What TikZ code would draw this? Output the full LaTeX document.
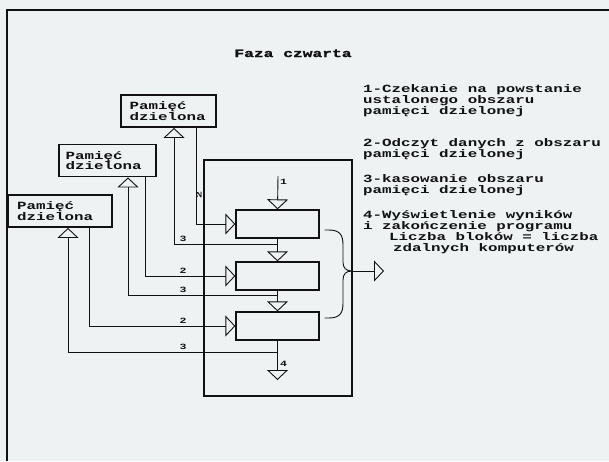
\documentclass[tikz,border=0pt]{standalone}
\usepackage{fontspec}
\newfontfamily\dotfont[FakeStretch=1.44]{Liberation Mono}
\newfontfamily\dotheavy[FakeStretch=1.44, FakeBold=1.5]{Liberation Mono}
\usetikzlibrary{arrows.meta}
\definecolor{paper}{RGB}{238,242,243}
\definecolor{ink}{RGB}{18,18,18}
\begin{document}
\begin{tikzpicture}[x=1pt,y=-1pt,
  txt/.style={anchor=base west, inner sep=0pt, text=ink, font=\dotfont\bfseries\fontsize{11}{11}\selectfont},
  ttl/.style={anchor=base, inner sep=0pt, text=ink, font=\dotheavy\bfseries\fontsize{11.3}{11}\selectfont},
  membox/.style={draw=ink, line width=1.8pt, minimum height=32pt, inner sep=0pt, align=left, text=ink, font=\dotfont\bfseries\fontsize{11}{10.5}\selectfont},
  blockbox/.style={draw=ink, line width=1.3pt, minimum width=83pt, minimum height=28pt, inner sep=0pt},
  contbox/.style={draw=ink, line width=1.1pt, minimum width=148pt, minimum height=236pt, inner sep=0pt},
  wire/.style={draw=ink, line width=0.9pt},
  tri/.style={wire, -{Triangle[open, length=10pt, width=21pt]}},
  lbl/.style={inner sep=0pt, text=ink, font=\dotfont\bfseries\fontsize{8}{8}\selectfont},
]
\fill[paper] (0,0) rectangle (609,461);
\useasboundingbox (0,0) rectangle (609,461);
% outer frame
\draw[ink, line width=2pt] (7,461) -- (7,10) -- (609,10);
% title
\node[ttl] (title) at (293,57) {Faza czwarta};
% description
\node[txt] (t1) at (363,92) {1-Czekanie na powstanie};
\node[txt] (t2) at (363,103) {ustalonego obszaru};
\node[txt] (t3) at (363,114) {pamięci dzielonej};
\node[txt] (t4) at (363,146) {2-Odczyt danych z obszaru};
\node[txt] (t5) at (363,157) {pamięci dzielonej};
\node[txt] (t6) at (363,182) {3-kasowanie obszaru};
\node[txt] (t7) at (363,193) {pamięci dzielonej};
\node[txt] (t8) at (363,218) {4-Wyświetlenie wyników};
\node[txt] (t9) at (363,229) {i zakończenie programu};
\node[txt] (t10) at (389,240) {Liczba bloków = liczba};
\node[txt] (t11) at (393,251) {zdalnych komputerów};
% shared memory boxes
\node[membox, minimum width=95pt, text width=78pt] (A) at (168.5,111) {Pamięć\\dzielona};
\node[membox, minimum width=97pt, text width=84pt] (B) at (107.5,160.5) {Pamięć\\dzielona};
\node[membox, minimum width=104pt, text width=86pt] (C) at (60,211) {Pamięć\\dzielona};
% container and blocks
\node[contbox] (K) at (278,278) {};
\node[blockbox] (P1) at (277.5,224) {};
\node[blockbox] (P2) at (277.5,276) {};
\node[blockbox] (P3) at (277.5,326) {};
% start arrow
\coordinate (s1) at (278,176);
\draw[tri] (s1) -- (P1.north);
\node[lbl, anchor=west] (l1) at (280,182) {1};
% junctions
\coordinate (j1) at (277.5,244);
\coordinate (j2) at (277.5,295);
\coordinate (j3) at (277.5,352);
\coordinate (e4) at (277.5,380);
\draw[wire] (P1.south) -- (j1);
\draw[tri] (j1) -- (P2.north);
\draw[wire] (P2.south) -- (j2);
\draw[tri] (j2) -- (P3.north);
\draw[wire] (P3.south) -- (j3);
\draw[tri] (j3) -- (e4);
\node[lbl, anchor=west] (l4) at (280,364) {4};
% wires from shared memory A
\draw[tri] ([xshift=27.5pt]A.south) |- (P1.west);
\draw[tri] (j1) -| ([xshift=5.5pt]A.south);
% wires from B
\draw[tri] ([xshift=37.5pt]B.south) |- (P2.west);
\draw[tri] (j2) -| ([xshift=20.5pt]B.south);
% wires from C
\draw[tri] ([xshift=29pt]C.south) |- (P3.west);
\draw[tri] (j3) -| ([xshift=8pt]C.south);
% wire labels
\node[lbl, rotate=90] (la2) at (199,195) {2};
\node[lbl, anchor=base] (la3) at (183,241) {3};
\node[lbl, anchor=base] (lb2) at (183,273) {2};
\node[lbl, anchor=base] (lb3) at (183,292) {3};
\node[lbl, anchor=base] (lc2) at (183,323) {2};
\node[lbl, anchor=base] (lc3) at (183,349) {3};
% output brace
\coordinate (m) at (352,271);
\coordinate (out) at (384,271);
\draw[wire] ([xshift=5pt,yshift=-6pt]P1.east) -- ++(4,0) .. controls (340,230) and (343,235) .. (343,245) -- (343,262) .. controls (343,268) and (346,271) .. (m);
\draw[wire] ([xshift=5pt,yshift=8pt]P3.east) -- ++(4,0) .. controls (340,318) and (343,313) .. (343,303) -- (343,280) .. controls (343,274) and (346,271) .. (m);
\draw[tri] (m) -- (out);
\end{tikzpicture}
\end{document}
